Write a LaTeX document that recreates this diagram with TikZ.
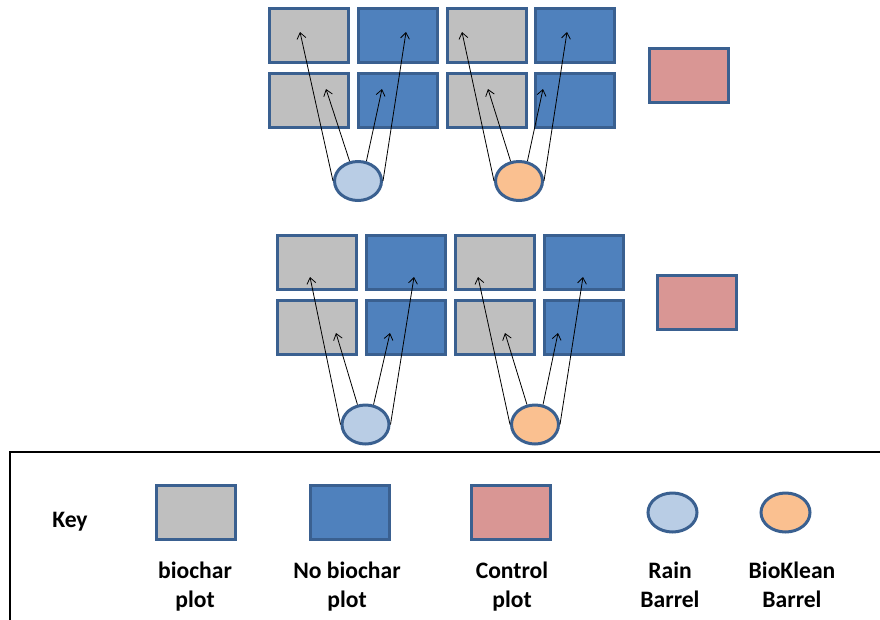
\documentclass[tikz,border=0pt]{standalone}
\usepackage{fontspec}
\setmainfont{Carlito}
\usetikzlibrary{arrows.meta,shapes.geometric}

\definecolor{edgeblue}{HTML}{3A6090}
\definecolor{plotgray}{HTML}{BFBFBF}
\definecolor{plotblue}{HTML}{4F81BD}
\definecolor{plotpink}{HTML}{D99694}
\definecolor{rainfill}{HTML}{B9CDE5}
\definecolor{kleanfill}{HTML}{FAC090}

\tikzset{
  plotbox/.style={draw=edgeblue, line width=3pt, minimum width=79pt, minimum height=54pt, inner sep=0pt},
  biochar/.style={plotbox, fill=plotgray},
  nobiochar/.style={plotbox, fill=plotblue},
  control/.style={plotbox, fill=plotpink},
  barrel/.style={ellipse, draw=edgeblue, line width=3pt, minimum width=47pt, minimum height=39pt, inner sep=0pt},
  rain/.style={barrel, fill=rainfill},
  klean/.style={barrel, fill=kleanfill},
  feed/.style={line width=0.8pt, -{Straight Barb[length=6pt,width=9pt]}},
  keytext/.style={font=\fontsize{23.6}{29}\selectfont\bfseries, align=center, inner sep=0pt}
}

\begin{document}
\begin{tikzpicture}[x=1pt, y=-1pt]
\useasboundingbox (0,0) rectangle (880,619);

% ---- upper block of plots ----
\node[biochar]   (a11) at (309,35.5) {};
\node[nobiochar] (a12) at (398,35.5) {};
\node[biochar]   (a13) at (487,35.5) {};
\node[nobiochar] (a14) at (575,35.5) {};
\node[biochar]   (a21) at (309,100) {};
\node[nobiochar] (a22) at (398,100) {};
\node[biochar]   (a23) at (487,100) {};
\node[nobiochar] (a24) at (575,100) {};
\node[control]   (actl) at (688.5,75) {};
\node[rain]  (arb) at (358,181) {};
\node[klean] (akb) at (519,181) {};

\coordinate (at1) at (300,32);
\coordinate (at2) at (326,89);
\coordinate (at3) at (382,89);
\coordinate (at4) at (406,32);
\coordinate (at5) at (462,32);
\coordinate (at6) at (488,89);
\coordinate (at7) at (543,89);
\coordinate (at8) at (567,32);

\draw[feed] (arb.west) -- (at1);
\draw[feed] (arb.113) -- (at2);
\draw[feed] (arb.67) -- (at3);
\draw[feed] (arb.east) -- (at4);
\draw[feed] (akb.west) -- (at5);
\draw[feed] (akb.113) -- (at6);
\draw[feed] (akb.67) -- (at7);
\draw[feed] (akb.east) -- (at8);

% ---- lower block of plots ----
\node[biochar]   (b11) at (317,262) {};
\node[nobiochar] (b12) at (405.5,262) {};
\node[biochar]   (b13) at (495,262) {};
\node[nobiochar] (b14) at (583.5,262) {};
\node[biochar]   (b21) at (317,327) {};
\node[nobiochar] (b22) at (405.5,327) {};
\node[biochar]   (b23) at (495,327) {};
\node[nobiochar] (b24) at (583.5,327) {};
\node[control]   (bctl) at (697,302.5) {};
\node[rain]  (brb) at (365.5,424.5) {};
\node[klean] (bkb) at (535,424.5) {};

\coordinate (bt1) at (310,277);
\coordinate (bt2) at (336,333);
\coordinate (bt3) at (390,333);
\coordinate (bt4) at (414,277);
\coordinate (bt5) at (478,277);
\coordinate (bt6) at (505,333);
\coordinate (bt7) at (558,333);
\coordinate (bt8) at (583,277);

\draw[feed] (brb.west) -- (bt1);
\draw[feed] (brb.112) -- (bt2);
\draw[feed] (brb.68) -- (bt3);
\draw[feed] (brb.east) -- (bt4);
\draw[feed] (bkb.west) -- (bt5);
\draw[feed] (bkb.112) -- (bt6);
\draw[feed] (bkb.68) -- (bt7);
\draw[feed] (bkb.east) -- (bt8);

% ---- key panel ----
\coordinate (kTR) at (884,452);
\coordinate (kTL) at (10,452);
\coordinate (kBL) at (10,623);
\draw[line width=2.2pt] (kTR) -- (kTL) -- (kBL);

\node[keytext] (keylbl) at (70,522) {Key};
\node[biochar]   (kb1) at (196,512.5) {};
\node[nobiochar] (kb2) at (349.5,512.5) {};
\node[control]   (kb3) at (511,512.5) {};
\node[rain, minimum width=49pt, minimum height=39pt]  (kb4) at (672.5,512.5) {};
\node[klean, minimum width=49pt, minimum height=39pt] (kb5) at (785.5,512.5) {};

\node[keytext] (kl1) at (195,587) {biochar\strut\\plot\strut};
\node[keytext] (kl2) at (347,587) {No biochar\strut\\plot\strut};
\node[keytext] (kl3) at (512,587) {Control\strut\\plot\strut};
\node[keytext] (kl4) at (670,587) {Rain\strut\\Barrel\strut};
\node[keytext] (kl5) at (792,587) {BioKlean\strut\\Barrel\strut};
\end{tikzpicture}
\end{document}
